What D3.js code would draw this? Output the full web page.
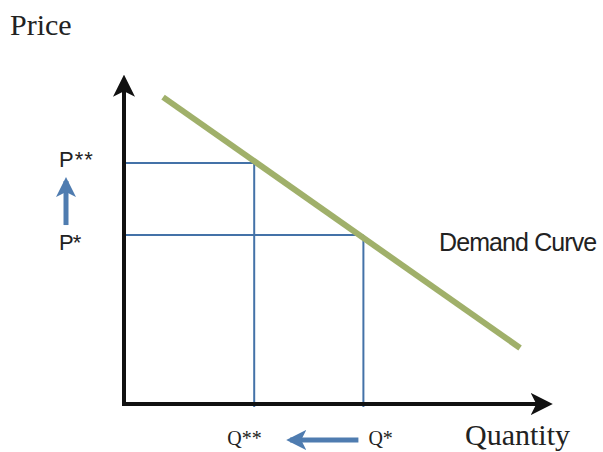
<!DOCTYPE html>
<html>
<head>
<meta charset="utf-8">
<script src="https://cdn.jsdelivr.net/npm/d3@7"></script>
<style>
  body { margin: 0; background: #fff; }
  svg { display: block; }
  .serif { font-family: "Liberation Serif", "Times New Roman", serif; fill: #222; }
  .sans { font-family: "Liberation Sans", Arial, sans-serif; fill: #222; }
</style>
</head>
<body>
<div id="chart"></div>
<script>
// quantity / price in chart units (0..10)
const axisEnd = { q: 10.2, p: 10.28 };
const demandQ = [0.93, 9.43];
const demandP = [9.59, 1.75];
const eqLabels = ['P*', 'P**'];
const qLabels = ['Q*', 'Q**'];
const eqQ = [5.7, 3.1];
const eqP = [5.28, 7.53];

const width = 603;
const height = 452;

const x = d3.scaleLinear().domain([0, 10]).range([124, 544]);
const y = d3.scaleLinear().domain([0, 10]).range([404, 84]);

const svg = d3.select('#chart').append('svg')
  .attr('width', width)
  .attr('height', height);

const defs = svg.append('defs');

const addMarker = (id, color, size) => {
  defs.append('marker')
    .attr('id', id)
    .attr('viewBox', '0 0 10 10')
    .attr('refX', 8)
    .attr('refY', 5)
    .attr('markerUnits', 'userSpaceOnUse')
    .attr('markerWidth', size)
    .attr('markerHeight', size)
    .attr('orient', 'auto')
    .append('path')
    .attr('d', 'M0,0 L10,5 L0,10 L2.5,5 Z')
    .attr('fill', color);
};

addMarker('axis-head', '#111', 22);
addMarker('blue-head', '#4f7cb0', 20);

// equilibrium guides
const blue = '#4472a8';
eqQ.forEach((q, i) => {
  svg.append('line')
    .attr('x1', x(0)).attr('y1', y(eqP[i]))
    .attr('x2', x(q)).attr('y2', y(eqP[i]))
    .attr('stroke', blue).attr('stroke-width', 2);
  svg.append('line')
    .attr('x1', x(q)).attr('y1', y(eqP[i]))
    .attr('x2', x(q)).attr('y2', y(0) + 3)
    .attr('stroke', blue).attr('stroke-width', 2);
});

// demand curve
svg.append('line')
  .attr('x1', x(demandQ[0])).attr('y1', y(demandP[0]))
  .attr('x2', x(demandQ[1])).attr('y2', y(demandP[1]))
  .attr('stroke', '#a0b06a')
  .attr('stroke-width', 6);

// axes
svg.append('path')
  .attr('d', `M${x(0)},${y(0)} L${x(0)},${y(axisEnd.p) + 4}`)
  .attr('stroke', '#111').attr('stroke-width', 4).attr('fill', 'none')
  .attr('marker-end', 'url(#axis-head)');
svg.append('path')
  .attr('d', `M${x(0) - 2},${y(0)} L${x(axisEnd.q) - 4},${y(0)}`)
  .attr('stroke', '#111').attr('stroke-width', 4).attr('fill', 'none')
  .attr('marker-end', 'url(#axis-head)');

// shift arrows
svg.append('line')
  .attr('x1', 66).attr('y1', y(eqP[0]) - 10)
  .attr('x2', 66).attr('y2', y(eqP[1]) + 18)
  .attr('stroke', '#4f7cb0').attr('stroke-width', 5)
  .attr('marker-end', 'url(#blue-head)');
svg.append('line')
  .attr('x1', x(eqQ[0]) - 5).attr('y1', 440)
  .attr('x2', x(eqQ[1]) + 36).attr('y2', 440)
  .attr('stroke', '#4f7cb0').attr('stroke-width', 5)
  .attr('marker-end', 'url(#blue-head)');

// labels
eqLabels.forEach((t, i) => {
  svg.append('text')
    .attr('class', 'sans')
    .attr('x', 59).attr('y', y(eqP[i]) + (i === 0 ? 15 : 4))
    .attr('font-size', 22)
    .attr('letter-spacing', i === 0 ? -1 : 1)
    .text(t);
});

qLabels.forEach((t, i) => {
  svg.append('text')
    .attr('class', 'serif')
    .attr('x', i === 0 ? x(eqQ[i]) + 5 : x(eqQ[i]) - 27)
    .attr('y', 445)
    .attr('font-size', 20)
    .text(t);
});

svg.append('text')
  .attr('class', 'serif')
  .attr('x', 10).attr('y', 35)
  .attr('font-size', 30)
  .text('Price');

svg.append('text')
  .attr('class', 'serif')
  .attr('x', 465).attr('y', 445)
  .attr('font-size', 30)
  .text('Quantity');

svg.append('text')
  .attr('class', 'sans')
  .attr('x', 439).attr('y', 251)
  .attr('font-size', 25)
  .attr('letter-spacing', -0.9)
  .text('Demand Curve');
</script>
</body>
</html>
